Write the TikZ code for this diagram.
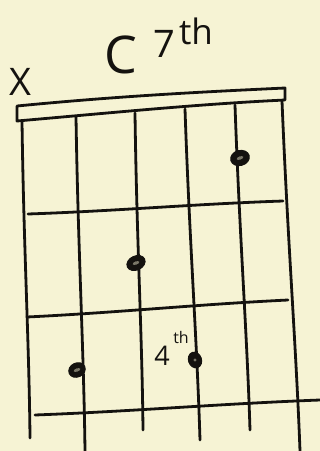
\documentclass[tikz,border=0pt]{standalone}
\usepackage{fontspec}
\setmainfont{Open Sans}
\usetikzlibrary{calc,shapes.geometric}
\definecolor{paper}{RGB}{246,243,212}
\definecolor{ink}{RGB}{20,18,15}
\begin{document}
\begin{tikzpicture}[x=1pt,y=-1pt,
  pen/.style={draw=ink,line width=2.8pt,line cap=round,line join=round},
  dot/.style={ellipse,fill=ink,draw=ink,line width=1pt,inner sep=0pt},
  hand/.style={text=ink,inner sep=0pt}]
\fill[paper] (0,0) rectangle (320,451);
\useasboundingbox (0,0) rectangle (320,451);
% nut
\draw[pen] (17,106) .. controls (120,96) and (200,92) .. (285,88) -- (285,100)
  .. controls (200,104) and (120,112) .. (17,121) -- cycle;
% strings
\coordinate (s1t) at (22,121); \coordinate (s1b) at (30,438);
\coordinate (s2t) at (76,117); \coordinate (s2b) at (85,451);
\coordinate (s3t) at (135,113); \coordinate (s3b) at (143,430);
\coordinate (s4t) at (185,109); \coordinate (s4b) at (200,440);
\coordinate (s5t) at (235,105); \coordinate (s5b) at (250,430);
\coordinate (s6t) at (282,101); \coordinate (s6b) at (300,451);
\foreach \i in {1,...,6}{\draw[pen] (s\i t) .. controls ($(s\i t)!0.4!(s\i b)+(-1.5,0)$) and ($(s\i t)!0.7!(s\i b)+(1.5,0)$) .. (s\i b);}
% frets
\coordinate (f1l) at (28,214); \coordinate (f1r) at (283,201);
\coordinate (f2l) at (27,317); \coordinate (f2r) at (288,300);
\coordinate (f3l) at (35,415); \coordinate (f3r) at (320,400);
\foreach \i in {1,2,3}{\draw[pen] (f\i l) .. controls ($(f\i l)!0.35!(f\i r)+(0,1.5)$) and ($(f\i l)!0.65!(f\i r)+(0,-1.5)$) .. (f\i r);}
% finger dots
\node[dot,minimum width=19pt,minimum height=15pt,rotate=15] (d1) at (240,158) {};
\node[dot,minimum width=19pt,minimum height=14pt,rotate=25] (d2) at (136,263) {};
\node[dot,minimum width=17pt,minimum height=14pt,rotate=25] (d3) at (77,370) {};
\node[dot,minimum width=13pt,minimum height=16pt,rotate=20] (d4) at (195,360) {};
\foreach \d in {d1,d2,d3}{\fill[paper!45!ink,rotate=20] (\d.center) ellipse [x radius=3.5pt,y radius=1.6pt];}
\fill[paper!45!ink] (d4.center) circle (1.6pt);
% texts
\node[hand,font=\fontsize{52}{52}\selectfont] (title) at (121,55) {C};
\node[hand,font=\fontsize{38}{38}\selectfont] (seven) at (164,44) {7};
\node[hand,font=\fontsize{35}{35}\selectfont] (th) at (196,31) {th};
\node[hand,font=\fontsize{38}{38}\selectfont] (mute) at (20,82) {X};
\node[hand,font=\fontsize{27}{27}\selectfont] (four) at (162,356) {4};
\node[hand,font=\fontsize{16}{16}\selectfont] (fourth) at (181,337) {th};
\end{tikzpicture}
\end{document}
